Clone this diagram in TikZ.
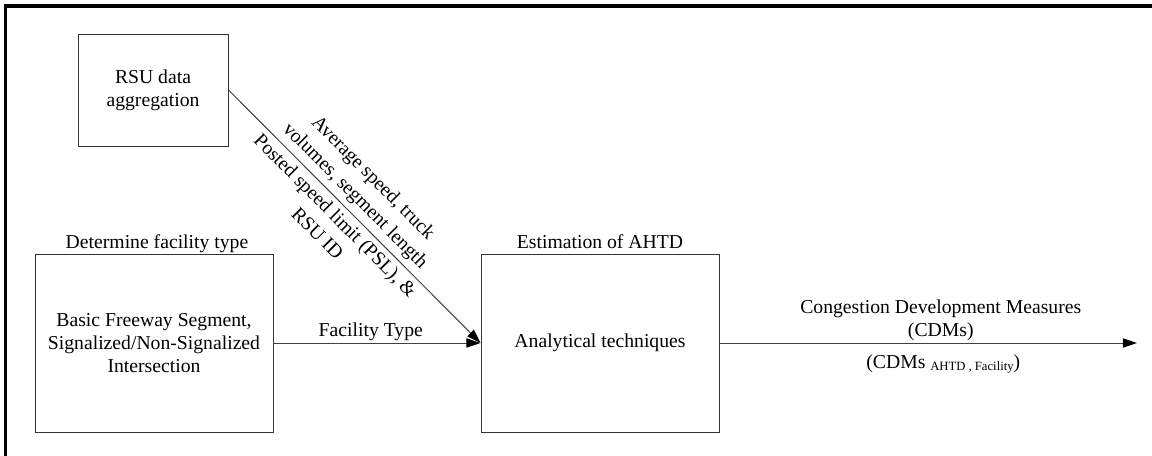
\documentclass[tikz,border=0pt]{standalone}
\usepackage{fontspec}
\setmainfont{Liberation Serif}
\usetikzlibrary{arrows.meta}

\tikzset{
	blk/.style={draw=black!80, line width=0.7pt, inner sep=0pt, align=center, font=\fontsize{14}{16.5}\selectfont},
	ttl/.style={anchor=base, font=\fontsize{14}{16.5}\selectfont},
	lbl/.style={inner sep=1.5pt, align=center, font=\fontsize{14}{16}\selectfont},
	slbl/.style={lbl, sloped, inner sep=3.5pt, font=\fontsize{14}{18}\selectfont},
	arr/.style={draw=black!75, line width=0.7pt, -{Triangle[length=10pt, width=6.5pt, color=black]}},
}

\begin{document}
\begin{tikzpicture}

		\useasboundingbox (0, 0) rectangle (28.8, -11.4);

		% frame, top and left only
		\draw[line width=2.2pt] (0.14, -11.4) to (0.14, -0.15) to (28.8, -0.15);

		% boxes
		\node[blk, minimum width=3.75cm, minimum height=2.8cm] (rsu) at(3.825, -2.25){RSU data\\aggregation};
		\node[blk, minimum width=5.95cm, minimum height=4.45cm] (fac) at(3.85, -8.575){Basic Freeway Segment,\\Signalized/Non-Signalized\\Intersection};
		\node[blk, minimum width=5.95cm, minimum height=4.45cm] (aht) at(15.0, -8.575){Analytical techniques};

		% box titles
		\node[ttl] (facttl) at(3.925, -6.2){Determine facility type};
		\node[ttl] (ahtttl) at(15.0, -6.2){Estimation of AHTD};

		\coordinate (cdmend) at(28.425, -8.575);

		% arrows
		\draw[arr] (rsu.east) to
			node[slbl, above, pos=0.46]{Average speed, truck\\volumes, segment length}
			node[slbl, below, pos=0.46]{Posted speed limit (PSL), \&\\RSU ID} (aht.west);
		\draw[arr] (fac.east) to node[lbl, above, pos=0.47]{Facility Type} (aht.west);
		\draw[arr] (aht.east) to
			node[lbl, above, pos=0.53]{Congestion Development Measures\\(CDMs)}
			node[lbl, below, inner sep=8pt, pos=0.536]{(CDMs {\fontsize{9}{10}\selectfont\raisebox{-0.4ex}{AHTD , Facility}})} (cdmend);

	\end{tikzpicture}
\end{document}
